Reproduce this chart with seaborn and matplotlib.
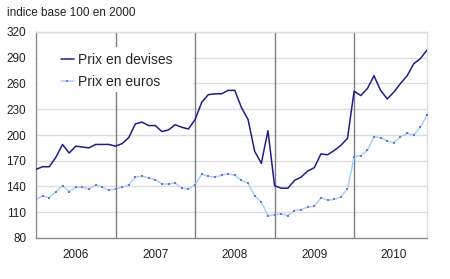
import matplotlib
matplotlib.use("Agg")
import matplotlib.pyplot as plt
from matplotlib.patches import Rectangle
import seaborn as sns
import pandas as pd
import numpy as np

years = ["2006", "2007", "2008", "2009", "2010"]
yticks = [80, 110, 140, 170, 200, 230, 260, 290, 320]

prix_devises = [
    160, 163, 163, 174, 189, 179, 187, 186, 185, 189, 189, 189,
    187, 190, 197, 213, 215, 211, 211, 204, 206, 212, 209, 207,
    218, 238, 247, 248, 248, 252, 252, 232, 218, 181, 167, 205,
    141, 138, 138, 147, 151, 158, 162, 178, 177, 182, 188, 196,
    251, 246, 254, 269, 252, 242, 250, 260, 269, 283, 289, 299,
]
prix_euros = [
    125, 129, 127, 134, 141, 134, 139, 139, 137, 142, 139, 136,
    137, 139, 142, 151, 152, 150, 148, 143, 143, 144, 138, 137,
    142, 154, 152, 151, 153, 155, 153, 147, 144, 129, 122, 106,
    107, 108, 106, 112, 113, 116, 117, 127, 124, 125, 128, 137,
    174, 176, 182, 198, 197, 193, 191, 198, 202, 200, 209, 223,
]

n = len(prix_devises)
df = pd.DataFrame({
    "mois": np.arange(n),
    "Prix en devises": prix_devises,
    "Prix en euros": prix_euros,
})

sns.set_theme(style="white")
plt.rcParams["font.family"] = ["Liberation Sans", "DejaVu Sans"]

fig = plt.figure(figsize=(4.5, 2.79), dpi=100)
ax_left, ax_bottom = 36 / 450, 1 - 238 / 279
ax_w, ax_h = (427 - 36) / 450, (238 - 32) / 279
ax = fig.add_axes([ax_left, ax_bottom, ax_w, ax_h])

# grid
for v in yticks[1:]:
    ax.axhline(v, color="#DDDDDD", lw=1, zorder=0)
for k in range(1, len(years)):
    ax.axvline(12 * k, color="#7F7F7F", lw=1, zorder=1)

sns.lineplot(data=df, x="mois", y="Prix en euros", ax=ax, color="#A8D0F8",
             lw=1.1, marker="s", markersize=2.0, markerfacecolor="#6A78D0",
             markeredgewidth=0, label="Prix en euros", zorder=3)
sns.lineplot(data=df, x="mois", y="Prix en devises", ax=ax, color="#1E1E8A",
             lw=1.1, label="Prix en devises", zorder=4)

ax.set_xlim(0, n - 1)
ax.set_ylim(80, 320)
ax.set_yticks(yticks)
ax.set_yticklabels([str(v) for v in yticks], fontsize=8.5, color="#222222")
ax.set_xticks([12 * k for k in range(len(years))])
ax.set_xticklabels([])
ax.set_xticks([12 * k + 6 for k in range(len(years))], minor=True)
ax.set_xticklabels(years, minor=True, fontsize=8.5, color="#222222")
ax.tick_params(axis="x", which="major", length=5, width=1, color="#7F7F7F", direction="out")
ax.tick_params(axis="x", which="minor", length=0, pad=8)
ax.tick_params(axis="y", length=4, width=1, color="#7F7F7F", direction="out", pad=3)
ax.set_xlabel("")
ax.set_ylabel("")

for side in ["left", "bottom"]:
    ax.spines[side].set_color("#8C8C8C")
    ax.spines[side].set_linewidth(1)
for side in ["top", "right"]:
    ax.spines[side].set_color("#DDDDDD")
    ax.spines[side].set_linewidth(1)

def fx(px):
    return (px - 36) / (427 - 36)

def fy(py):
    return (238 - py) / (238 - 32)

ax.add_patch(Rectangle((fx(38), fy(92)), fx(193) - fx(38), fy(47) - fy(92),
                       transform=ax.transAxes, facecolor="white",
                       edgecolor="none", zorder=2))

handles, labels = ax.get_legend_handles_labels()
order = [labels.index("Prix en devises"), labels.index("Prix en euros")]
leg = ax.legend([handles[i] for i in order], [labels[i] for i in order],
                loc="upper left", bbox_to_anchor=(fx(57), fy(49)), fontsize=10,
                frameon=False, handlelength=0.9, handletextpad=0.3,
                borderpad=0.3, labelspacing=0.55, borderaxespad=0)
leg.set_zorder(5)

fig.text(7 / 450, 1 - 13 / 279, "indice base 100 en 2000", fontsize=8.5,
         color="#222222", va="center", ha="left")

fig.savefig("out.png", dpi=100, facecolor="white")
